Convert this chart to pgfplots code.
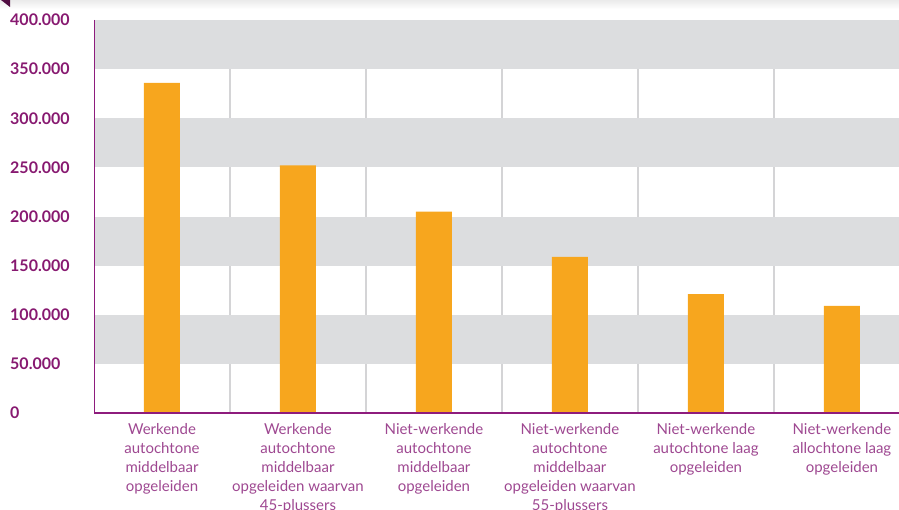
\documentclass[border=0pt]{standalone}
\usepackage{pgfplots}
\pgfplotsset{compat=1.18}
\usepackage{fontspec}
\setmainfont{Lato}

\definecolor{barorange}{RGB}{247,166,30}
\definecolor{bandgrey}{RGB}{220,221,223}
\definecolor{gridgrey}{RGB}{212,212,214}
\definecolor{axispurple}{RGB}{142,28,125}
\definecolor{tickpurple}{RGB}{135,25,112}
\definecolor{labelpurple}{RGB}{158,72,145}
\definecolor{cornerpurple}{RGB}{80,12,65}

\begin{document}
\begin{tikzpicture}[x=1pt,y=1pt]
\useasboundingbox (0,0) rectangle (899,509);
\clip (0,0) rectangle (899,509);
\shade[top color=black!8, bottom color=white] (0,500) rectangle (899,509);
\fill[cornerpurple] (1,509) -- (10,509) -- (10,502) -- cycle;
\begin{axis}[
    at={(94pt,96pt)}, anchor=south west,
    scale only axis,
    width=805pt, height=393pt,
    xmin=-0.5, xmax=5.42,
    ymin=0, ymax=400000,
    axis x line=bottom, axis y line=left,
    axis line style={draw=none},
    xtick={0,1,2,3,4,5},
    xticklabels={
        {Werkende\\autochtone\\middelbaar\\opgeleiden},
        {Werkende\\autochtone\\middelbaar\\opgeleiden waarvan\\45-plussers},
        {Niet-werkende\\autochtone\\middelbaar\\opgeleiden},
        {Niet-werkende\\autochtone\\middelbaar\\opgeleiden waarvan\\55-plussers},
        {Niet-werkende\\autochtone laag\\opgeleiden},
        {Niet-werkende\\allochtone laag\\opgeleiden}},
    major tick length=0pt,
    ytick={0,50000,...,400000},
    scaled y ticks=false,
    /pgf/number format/.cd, fixed, 1000 sep={.}, assume math mode=true,
    /pgfplots/.cd,
    xticklabel style={align=center, font=\fontsize{15}{19}\selectfont,
        text=labelpurple, inner sep=0pt, anchor=north, yshift=-10pt},
    yticklabel style={font=\fontsize{16}{18}\selectfont\bfseries,
        text=tickpurple, inner sep=0pt, anchor=west, xshift=-84pt},
]
% vertical separators between categories
\addplot[ycomb, gridgrey, line width=1.5pt, mark=none] coordinates {
    (0.5,400000) (1.5,400000) (2.5,400000) (3.5,400000) (4.5,400000)
};
% grey bands
\addplot[fill=bandgrey, draw=none] coordinates {(-0.5,350000) (5.42,350000) (5.42,400000) (-0.5,400000)} -- cycle;
\addplot[fill=bandgrey, draw=none] coordinates {(-0.5,250000) (5.42,250000) (5.42,300000) (-0.5,300000)} -- cycle;
\addplot[fill=bandgrey, draw=none] coordinates {(-0.5,150000) (5.42,150000) (5.42,200000) (-0.5,200000)} -- cycle;
\addplot[fill=bandgrey, draw=none] coordinates {(-0.5,50000) (5.42,50000) (5.42,100000) (-0.5,100000)} -- cycle;

\addplot[ybar, bar width=36pt, fill=barorange, draw=none] coordinates {
    (0,336000)
    (1,252000)
    (2,205000)
    (3,159000)
    (4,121000)
    (5,109000)
};

\draw[axispurple, line width=2.5pt]
    (axis cs:-0.5,400000) -- (axis cs:-0.5,0) -- (axis cs:5.42,0);
\end{axis}
\end{tikzpicture}
\end{document}
